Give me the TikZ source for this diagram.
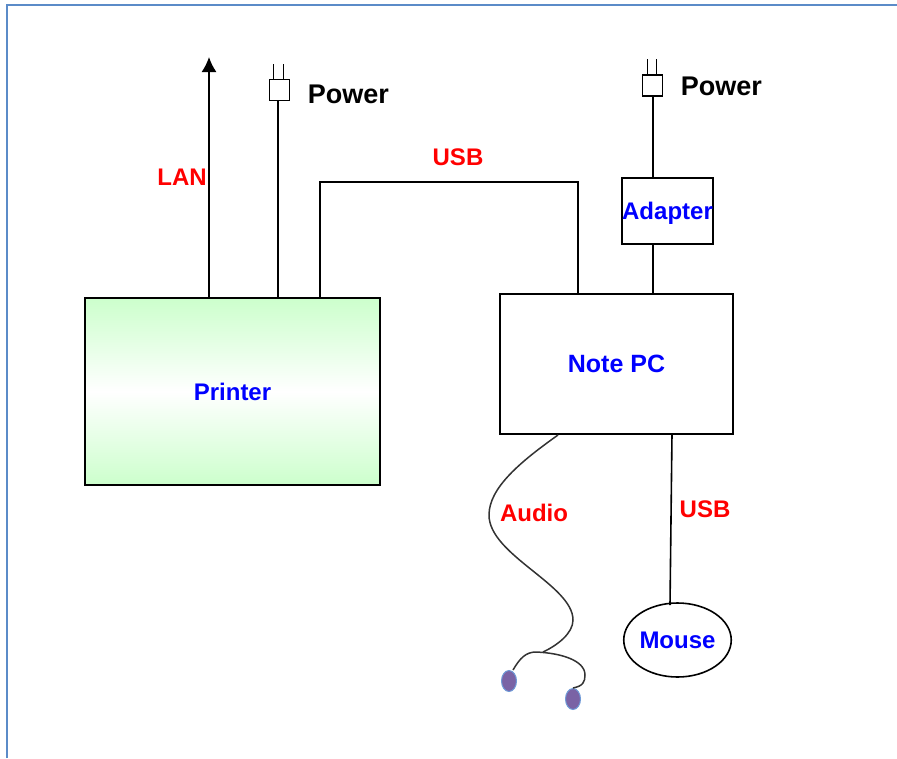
\documentclass[tikz,border=0pt]{standalone}
\usepackage{fontspec}
\setmainfont{Liberation Sans}
\usetikzlibrary{shapes.geometric}
\usetikzlibrary{arrows.meta}
\definecolor{framblue}{HTML}{5B8BC8}
\definecolor{prtgreen}{HTML}{CCFFCC}
\definecolor{earpurple}{HTML}{7A63A5}
\definecolor{earblue}{HTML}{6F9BD8}
\begin{document}
\begin{tikzpicture}[x=1pt, y=-1pt, line width=1.6pt,
	blk/.style={draw, minimum width=0pt, minimum height=0pt, inner sep=0pt, text depth=0pt, font=\fontsize{24}{24}\selectfont\bfseries, text=blue},
	lbl/.style={inner sep=0pt, font=\fontsize{24}{24}\selectfont\bfseries, text=red},
	pwr/.style={inner sep=0pt, font=\fontsize{27}{27}\selectfont\bfseries, text=black},
	plg/.style={draw, fill=white, minimum width=20pt, minimum height=21pt, inner sep=0pt},
	ear/.style={draw=earblue, fill=earpurple, shape=ellipse, line width=1pt, minimum width=15pt, minimum height=21pt, inner sep=0pt},
	wire/.style={line width=1.5pt, draw=black!80}]
\useasboundingbox (0, 0) rectangle (897, 758);
\coordinate (fa) at (7, 758);
\coordinate (fb) at (7, 5);
\coordinate (fc) at (897, 5);
\draw[draw=framblue, line width=2pt] (fa) -- (fb) -- (fc);
\node[blk, minimum width=295pt, minimum height=187pt, top color=prtgreen, bottom color=prtgreen, middle color=white] (prt) at (232.5, 391.5) {Printer};
\node[blk, minimum width=233pt, minimum height=140pt, font=\fontsize{25}{25}\selectfont\bfseries] (pc) at (616.5, 364) {Note PC};
\node[blk, minimum width=91pt, minimum height=66pt] (adp) at (667.5, 211) {Adapter};
\node[blk, shape=ellipse, minimum width=107pt, minimum height=74pt] (mse) at (677.5, 640) {Mouse};
\node[plg] (plga) at (279.5, 90) {};
\node[plg] (plgb) at (652.5, 85.5) {};
\node[pwr, anchor=west] (pwra) at (307, 94) {Power};
\node[pwr, anchor=west] (pwrb) at (680, 86) {Power};
\node[lbl] (lan) at (182, 177) {LAN};
\node[lbl] (usba) at (458, 157) {USB};
\node[lbl] (aud) at (534, 513) {Audio};
\node[lbl] (usbb) at (705, 509) {USB};
\node[ear] (eara) at (509, 681) {};
\node[ear] (earb) at (573, 699) {};
\coordinate (lant) at (209, 57);
\coordinate (lanb) at (209, 298);
\coordinate (plgp) at (278, 298);
\coordinate (usbp) at (320, 298);
\coordinate (usbu) at (320, 182);
\coordinate (usbr) at (578, 182);
\coordinate (usbn) at (578, 294);
\coordinate (adpb) at (653, 178);
\coordinate (adpc) at (653, 244);
\coordinate (adpd) at (653, 294);
\coordinate (msea) at (672, 434);
\coordinate (mseb) at (670, 605);
\coordinate (auda) at (558, 435);
\coordinate (audb) at (489, 515);
\coordinate (audc) at (573, 620);
\coordinate (audd) at (543, 652);
\draw[-{Latex[length=15pt,width=15pt]}] (lanb) to (lant);
\draw (plgp) to (plga.south -| plgp);
\draw ([xshift=-6pt]plga.north) to ++(0, -15);
\draw ([xshift=4pt]plga.north) to ++(0, -15);
\draw (plgb.south -| adpb) to (adpb);
\draw ([xshift=-5pt]plgb.north) to ++(0, -15);
\draw ([xshift=4pt]plgb.north) to ++(0, -15);
\draw (adpc) to (adpd);
\draw (usbp) to (usbu) to (usbr) to (usbn);
\draw (msea) to (mseb);
\draw[wire] (auda) .. controls (520, 462) and (489, 488) .. (audb)
	.. controls (489, 555) and (573, 585) .. (audc)
	.. controls (573, 633) and (558, 645) .. (audd);
\draw[wire] (eara.north) ++(4, 0) .. controls (520, 658) and (526, 652) .. (536, 652)
	.. controls (560, 653) and (585, 660) .. (585, 675)
	.. controls (585, 682) and (583, 686) .. (earb.north);
\end{tikzpicture}
\end{document}
